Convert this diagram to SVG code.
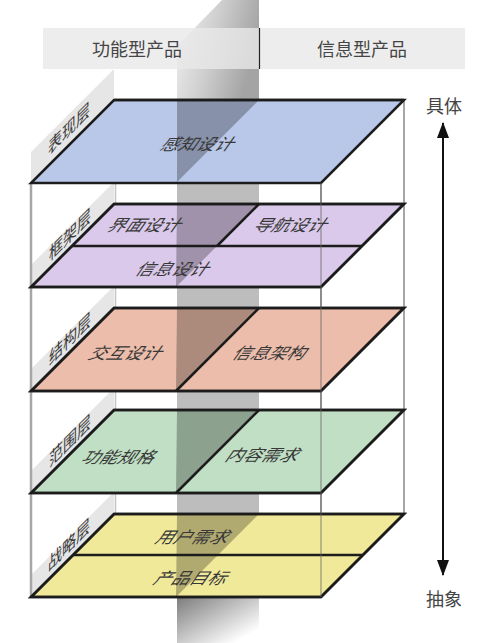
<svg xmlns="http://www.w3.org/2000/svg" width="487" height="643" viewBox="0 0 487 643">
<defs>
<linearGradient id="gTop" x1="0" y1="0" x2="1" y2="0.3">
<stop offset="0" stop-color="#f2f2f2"/>
<stop offset="0.5" stop-color="#cfcfcf"/>
<stop offset="1" stop-color="#a4a4a4"/>
</linearGradient>
<linearGradient id="gBot" x1="0" y1="0" x2="1" y2="1">
<stop offset="0" stop-color="#7c7c7c"/>
<stop offset="0.85" stop-color="#ffffff"/>
</linearGradient>
<marker id="ah" viewBox="0 0 16 12" refX="15" refY="6" markerWidth="16" markerHeight="12" markerUnits="userSpaceOnUse" orient="auto-start-reverse">
<path d="M0,0 L16,6 L0,12 Z" fill="#111"/>
</marker>
<style>
.hd{font-family:"Noto Sans CJK SC","Noto Sans",sans-serif;font-size:18px;fill:#454545;text-anchor:middle;dominant-baseline:central}
.pl{stroke:#1c1c1c;stroke-width:2.5;stroke-linejoin:miter}
.ln{stroke:#1c1c1c;stroke-width:2.5;fill:none}
.tri{fill:#000;fill-opacity:0.27}
.lbl{font-family:"Noto Sans CJK SC","Noto Sans",sans-serif;font-size:18px;fill:#383838;text-anchor:middle;dominant-baseline:central}
.side{font-family:"Noto Sans CJK SC","Noto Sans",sans-serif;font-size:14px;fill:#383838;text-anchor:middle;dominant-baseline:central}
.strip{fill:#e6e6e6}
.fr{stroke:#a6a6a6;stroke-width:2;fill:none}
</style>
</defs>
<rect width="487" height="643" fill="#ffffff"/>

<!-- top beam -->
<polygon points="177,46 222,0 259,0 259,100 177,100" fill="url(#gTop)"/>

<g id="header">
<rect x="43" y="28" width="422" height="41" fill="#e8e8e8" fill-opacity="0.8"/>
<line x1="259.5" y1="28" x2="259.5" y2="69" stroke="#222" stroke-width="1.2"/>
<text class="hd" x="137" y="48">功能型产品</text>
<text class="hd" x="362" y="48">信息型产品</text>
</g>

<!-- side strips -->
<g id="strips">
<polygon class="strip" points="114,69 114,100 31,183 31,152"/>
<polygon class="strip" points="114,182 114,204 31,287 31,265"/>
<polygon class="strip" points="114,286 114,308 31,391 31,369"/>
<polygon class="strip" points="114,388 114,410 31,493 31,471"/>
<polygon class="strip" points="114,492 114,514 31,597 31,575"/>
</g>

<g id="frame">
<line class="fr" x1="31" y1="183" x2="31" y2="597" stroke="#9a9a9a" style="stroke-width:2.5"/>
<line x1="115.5" y1="100" x2="115.5" y2="514" stroke="#c4c4c4" stroke-width="1.5"/>
<line class="fr" x1="404" y1="100" x2="404" y2="514"/>
<line class="fr" x1="321" y1="183" x2="321" y2="597"/>
</g>

<!-- beam between layers -->
<rect x="177" y="100" width="82" height="497" fill="#bdbdbd"/>
<rect x="177" y="597" width="82" height="46" fill="url(#gBot)"/>

<g id="layer-1">
<polygon class="pl" points="114,100 404,100 321,183 31,183" fill="#b9c8e9"/>
<polygon class="tri" points="177,100 259,100 176,183 177,183"/>
<line class="ln" x1="114" y1="100" x2="404" y2="100"/>
<text class="lbl" transform="translate(200,143) skewX(-35) scale(1,0.9)">感知设计</text>
<text class="side" transform="translate(69,127) skewY(-45) scale(1,1.3)">表现层</text>
</g>

<g id="layer-2">
<polygon class="pl" points="114,204 404,204 321,287 31,287" fill="#dac9ea"/>
<polygon class="tri" points="177,204 259,204 176,287"/>
<line class="ln" x1="259" y1="204" x2="217" y2="246"/>
<line class="ln" x1="72" y1="246" x2="362" y2="246"/>
<polygon class="pl" points="114,204 404,204 321,287 31,287" fill="none"/>
<text class="lbl" transform="translate(147,224) skewX(-35) scale(1,0.9)">界面设计</text>
<text class="lbl" transform="translate(293,224) skewX(-35) scale(1,0.9)">导航设计</text>
<text class="lbl" transform="translate(175,268) skewX(-35) scale(1,0.9)">信息设计</text>
<text class="side" transform="translate(70,233) skewY(-45) scale(1,1.3)">框架层</text>
</g>

<g id="layer-3">
<polygon class="pl" points="114,308 404,308 321,391 31,391" fill="#ecbdab"/>
<polygon class="tri" points="177,308 259,308 176,391"/>
<line class="ln" x1="259" y1="308" x2="176" y2="391"/>
<polygon class="pl" points="114,308 404,308 321,391 31,391" fill="none"/>
<text class="lbl" transform="translate(128,352) skewX(-35) scale(1,0.9)">交互设计</text>
<text class="lbl" transform="translate(272,352) skewX(-35) scale(1,0.9)">信息架构</text>
<text class="side" transform="translate(70,337) skewY(-45) scale(1,1.3)">结构层</text>
</g>

<g id="layer-4">
<polygon class="pl" points="114,410 404,410 321,493 31,493" fill="#c0dfc4"/>
<polygon class="tri" points="177,410 259,410 176,493"/>
<line class="ln" x1="259" y1="410" x2="176" y2="493"/>
<polygon class="pl" points="114,410 404,410 321,493 31,493" fill="none"/>
<text class="lbl" transform="translate(121,456) skewX(-35) scale(1,0.9)">功能规格</text>
<text class="lbl" transform="translate(265,454) skewX(-35) scale(1,0.9)">内容需求</text>
<text class="side" transform="translate(70,439) skewY(-45) scale(1,1.3)">范围层</text>
</g>

<g id="layer-5">
<polygon class="pl" points="114,514 404,514 321,597 31,597" fill="#f1e99a"/>
<polygon class="tri" points="177,514 259,514 176,597"/>
<line class="ln" x1="73" y1="555" x2="363" y2="555"/>
<polygon class="pl" points="114,514 404,514 321,597 31,597" fill="none"/>
<text class="lbl" transform="translate(195,536) skewX(-35) scale(1,0.9)">用户需求</text>
<text class="lbl" transform="translate(193,577) skewX(-35) scale(1,0.9)">产品目标</text>
<text class="side" transform="translate(69,543) skewY(-45) scale(1,1.3)">战略层</text>
</g>

<line x1="321" y1="183" x2="321" y2="597" stroke="#666" stroke-width="2" stroke-opacity="0.4"/>

<g id="connectors">
<line x1="443" y1="123" x2="443" y2="575" stroke="#111" stroke-width="2" marker-start="url(#ah)" marker-end="url(#ah)"/>
</g>
<g id="axis-labels">
<text class="hd" x="444" y="105">具体</text>
<text class="hd" x="444" y="598">抽象</text>
</g>
</svg>
